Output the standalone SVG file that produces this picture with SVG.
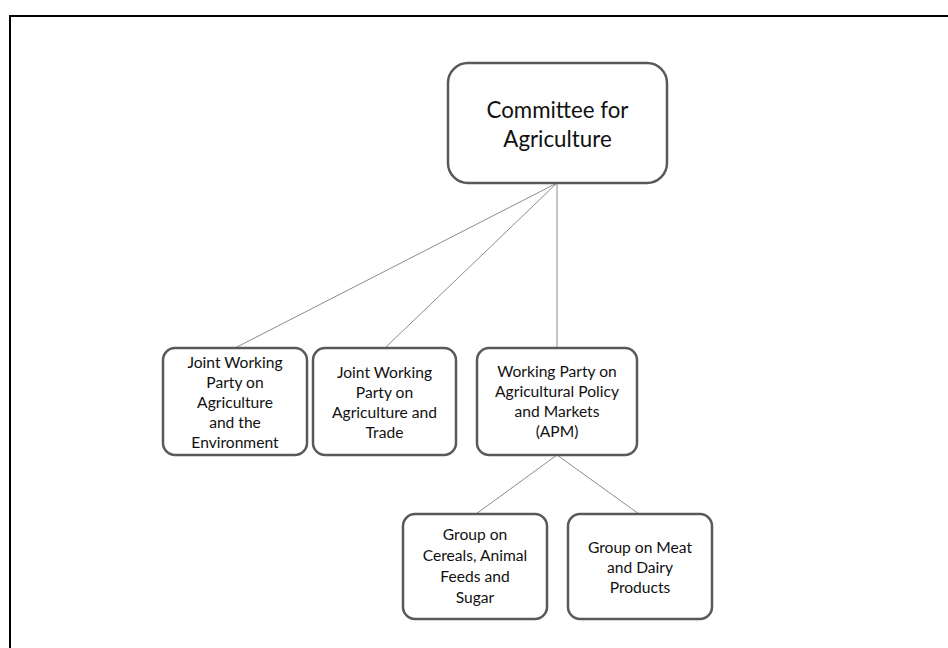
<svg xmlns="http://www.w3.org/2000/svg" width="948" height="648" viewBox="0 0 948 648">
<style>
.box{fill:#fff;stroke:#595959;stroke-width:2.5}
.t{font-family:Lato,"Open Sans","Liberation Sans",sans-serif;font-size:15.6px;fill:#111;text-anchor:middle}
.big{font-size:22.3px}
.c{stroke:#8c8c8c;stroke-width:1;fill:none}
</style>
<rect width="948" height="648" fill="#fff"/>
<path d="M10,649 V16 H949" fill="none" stroke="#000" stroke-width="2"/>
<g id="connectors">
<line class="c" x1="557" y1="183" x2="235" y2="348"/>
<line class="c" x1="557" y1="183" x2="385" y2="348"/>
<line class="c" x1="557" y1="183" x2="557" y2="348"/>
<line class="c" x1="557" y1="455" x2="476" y2="514"/>
<line class="c" x1="557" y1="455" x2="639" y2="514"/>
</g>
<g id="committee">
<rect class="box" x="448" y="63" width="219" height="120" rx="20"/>
<text class="t big" x="557.5" y="118">Committee for</text>
<text class="t big" x="557.5" y="147">Agriculture</text>
</g>
<g id="jwp-env">
<rect class="box" x="163" y="348" width="144" height="107" rx="12"/>
<text class="t" x="235" y="368">Joint Working</text>
<text class="t" x="235" y="388">Party on</text>
<text class="t" x="235" y="408">Agriculture</text>
<text class="t" x="235" y="428">and the</text>
<text class="t" x="235" y="448">Environment</text>
</g>
<g id="jwp-trade">
<rect class="box" x="313" y="348" width="143" height="107" rx="12"/>
<text class="t" x="384.5" y="378">Joint Working</text>
<text class="t" x="384.5" y="398">Party on</text>
<text class="t" x="384.5" y="418">Agriculture and</text>
<text class="t" x="384.5" y="438">Trade</text>
</g>
<g id="apm">
<rect class="box" x="477" y="348" width="160" height="107" rx="12"/>
<text class="t" x="557" y="377">Working Party on</text>
<text class="t" x="557" y="397">Agricultural Policy</text>
<text class="t" x="557" y="417">and Markets</text>
<text class="t" x="557" y="437">(APM)</text>
</g>
<g id="cereals">
<rect class="box" x="403" y="514" width="144" height="105" rx="12"/>
<text class="t" x="475" y="540">Group on</text>
<text class="t" x="475" y="561">Cereals, Animal</text>
<text class="t" x="475" y="582">Feeds and</text>
<text class="t" x="475" y="603">Sugar</text>
</g>
<g id="meat">
<rect class="box" x="568" y="514" width="144" height="105" rx="12"/>
<text class="t" x="640" y="553">Group on Meat</text>
<text class="t" x="640" y="573">and Dairy</text>
<text class="t" x="640" y="593">Products</text>
</g>
</svg>
